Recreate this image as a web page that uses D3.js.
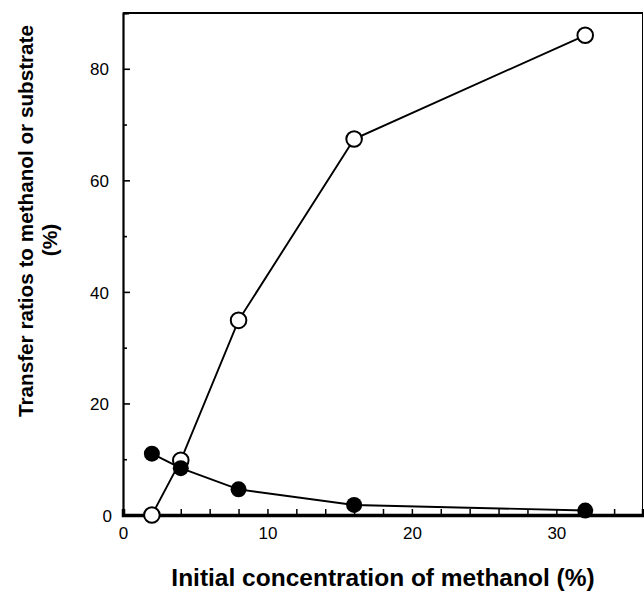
<!DOCTYPE html>
<html>
<head>
<meta charset="utf-8">
<script src="https://cdn.jsdelivr.net/npm/d3@7"></script>
<style>
html,body{margin:0;padding:0;background:#fff;}
svg{display:block;}
text{font-family:"Liberation Sans",Arial,Helvetica,sans-serif;}
</style>
</head>
<body>
<svg id="chart" width="644" height="593"></svg>
<script>
// Data
const concentrations = [2, 4, 8, 16, 32];
const openSeries = [0, 9.8, 34.9, 67.4, 86.0];     // open circles
const filledSeries = [11.0, 8.4, 4.6, 1.8, 0.8];   // filled circles
const xTickMajor = [0, 10, 20, 30];
const yTickMajor = [0, 20, 40, 60, 80];
const xTitle = "Initial concentration of methanol (%)";
const yTitleLines = ["Transfer ratios to methanol or substrate", "(%)"];

const svg = d3.select("#chart");
const L = 123, R = 643, T = 13, B = 515;
const x = d3.scaleLinear().domain([0, 36]).range([L, R]);
const y = d3.scaleLinear().domain([0, 90]).range([B, T]);

// frame
svg.append("line").attr("x1", L).attr("x2", R).attr("y1", T).attr("y2", T)
  .attr("stroke", "#000").attr("stroke-width", 2);
svg.append("line").attr("x1", R - 0.5).attr("x2", R - 0.5).attr("y1", T).attr("y2", B)
  .attr("stroke", "#000").attr("stroke-width", 1);

// x axis
const xAxis = d3.axisBottom(x).tickValues(d3.range(0, 37, 2)).tickSize(-6)
  .tickFormat(d => xTickMajor.includes(d) ? d : "");
const gx = svg.append("g").attr("transform", `translate(0,${B})`).call(xAxis);
gx.select(".domain").attr("stroke-width", 3.5);
gx.selectAll(".tick line").attr("stroke-width", 1.5);
gx.selectAll(".tick text").attr("dy", "0").attr("y", 24)
  .style("font-size", "17px").attr("fill", "#000");

// y axis
const yAxis = d3.axisLeft(y).tickValues(d3.range(0, 91, 10)).tickSize(-6)
  .tickFormat(d => yTickMajor.includes(d) ? d : "");
const gy = svg.append("g").attr("transform", `translate(${L},0)`).call(yAxis);
gy.select(".domain").attr("stroke-width", 2.2);
gy.selectAll(".tick line").attr("stroke-width", 1.6)
  .attr("x2", d => yTickMajor.includes(d) ? 7 : 4);
gy.selectAll(".tick text").attr("x", -14).attr("dy", "0.36em")
  .style("font-size", "17px").attr("fill", "#000");
gy.selectAll(".tick").filter(d => d === 0).select("text").attr("x", -11);

// lines
const line = d3.line().x(d => x(d[0])).y(d => y(d[1]));
const openPts = concentrations.map((c, i) => [c, openSeries[i]]);
const filledPts = concentrations.map((c, i) => [c, filledSeries[i]]);

svg.append("path").datum(filledPts).attr("d", line)
  .attr("fill", "none").attr("stroke", "#000").attr("stroke-width", 1.9);
svg.append("path").datum(openPts).attr("d", line)
  .attr("fill", "none").attr("stroke", "#000").attr("stroke-width", 1.9);

svg.append("g").selectAll("circle").data(openPts).join("circle")
  .attr("cx", d => x(d[0])).attr("cy", d => y(d[1])).attr("r", 7.8)
  .attr("fill", "#fff").attr("stroke", "#000").attr("stroke-width", 2);
svg.append("g").selectAll("circle").data(filledPts).join("circle")
  .attr("cx", d => x(d[0])).attr("cy", d => y(d[1])).attr("r", 8)
  .attr("fill", "#000");

// titles
svg.append("text").attr("x", 383).attr("y", 586).attr("text-anchor", "middle")
  .style("font-size", "24.5px").style("font-weight", "bold").text(xTitle);

svg.append("text").attr("transform", "translate(33,221) rotate(-90)")
  .attr("text-anchor", "middle")
  .style("font-size", "20.7px").style("font-weight", "bold").text(yTitleLines[0]);
svg.append("text").attr("transform", "translate(57,240) rotate(-90)")
  .attr("text-anchor", "middle")
  .style("font-size", "21px").style("font-weight", "bold").text(yTitleLines[1]);
</script>
</body>
</html>
